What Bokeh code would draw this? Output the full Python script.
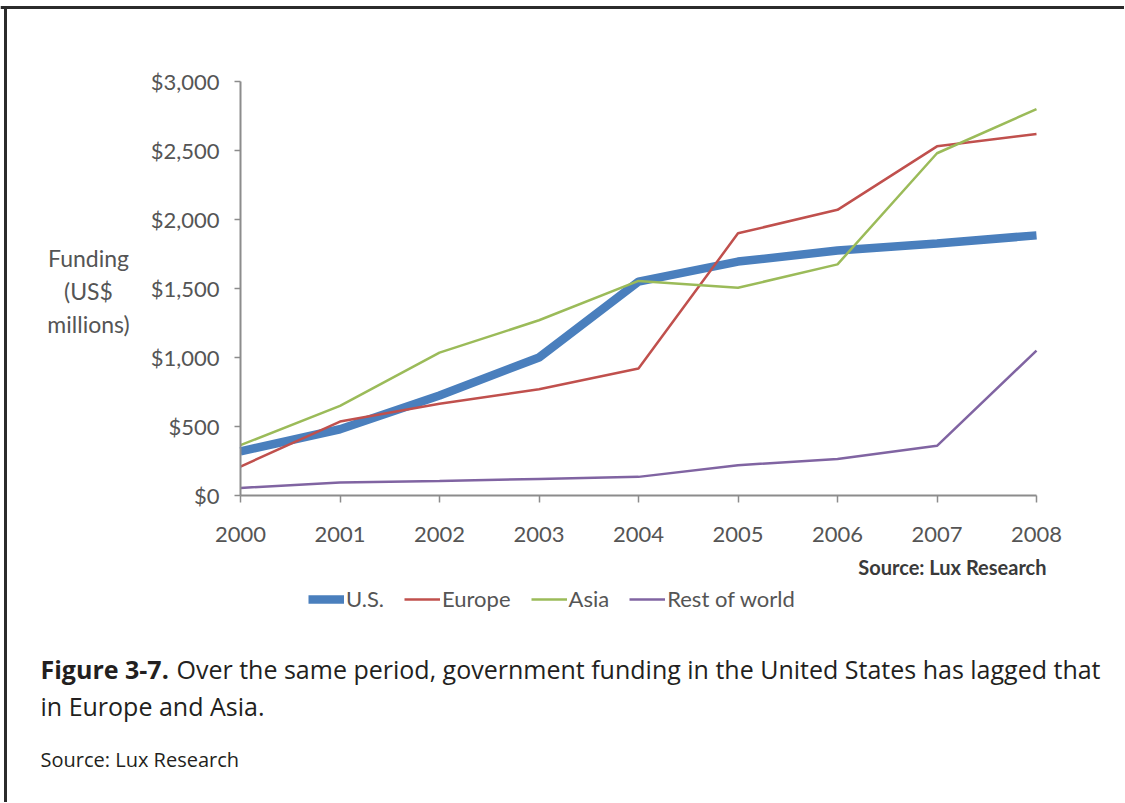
from bokeh.plotting import figure
from bokeh.models import (Range1d, FixedTicker, NumeralTickFormatter, Legend, LegendItem,
                          LinearAxis, Label, BoxAnnotation)
from bokeh.embed import file_html
from bokeh.resources import INLINE

# ---- data ----
years = [2000, 2001, 2002, 2003, 2004, 2005, 2006, 2007, 2008]
us = [320, 480, 725, 1000, 1550, 1695, 1775, 1826, 1885]
europe = [210, 536, 665, 770, 920, 1900, 2070, 2530, 2620]
asia = [365, 650, 1035, 1270, 1555, 1505, 1675, 2480, 2800]
rest = [55, 95, 105, 120, 135, 220, 265, 360, 1050]
y_ticks = [0, 500, 1000, 1500, 2000, 2500, 3000]
series_names = ["U.S.", "Europe", "Asia", "Rest of world"]
caption_bold = "Figure 3-7."
caption_rest = "Over the same period, government funding in the United States has lagged that"
caption_line2 = "in Europe and Asia."
source_text = "Source: Lux Research"
y_title = ["Funding", "(US$", "millions)"]

# ---- layout geometry (page pixels) ----
W, H = 1124, 802
PL, PR = 240, 1036      # x of 2000 / 2008
PB, PT = 495, 81        # y of 0 / 3000
xs = (PR - PL) / (years[-1] - years[0])
ys = (PB - PT) / y_ticks[-1]

p = figure(width=W, height=H, output_backend="svg", toolbar_location=None,
           x_range=Range1d(years[0] - PL / xs, years[0] + (W - PL) / xs),
           y_range=Range1d((PB - H) / ys, PB / ys),
           x_axis_location=None, y_axis_location=None,
           min_border=0, min_border_left=0, min_border_right=0,
           min_border_top=0, min_border_bottom=0)
p.outline_line_color = None
p.xgrid.visible = False
p.ygrid.visible = False


def sx(px):
    return px


def sy(py):
    return H - py


# page frame border (top & left)
p.add_layout(BoxAnnotation(left=p.x_range.start, right=p.x_range.end,
                           bottom=(PB - 8.5) / ys, top=(PB - 5.5) / ys,
                           fill_color="#2b2b2b", fill_alpha=1, line_color=None, level="overlay"))
p.add_layout(BoxAnnotation(left=years[0] + (3.5 - PL) / xs, right=years[0] + (6.5 - PL) / xs,
                           bottom=p.y_range.start, top=(PB - 5.5) / ys,
                           fill_color="#2b2b2b", fill_alpha=1, line_color=None, level="overlay"))

axis_col = "#8c8c8c"
tick_font = "Lato"
lab_col = "#555555"

xax = LinearAxis(fixed_location=0, bounds=(years[0], years[-1]),
                 ticker=FixedTicker(ticks=years))
yax = LinearAxis(fixed_location=years[0], bounds=(0, y_ticks[-1]),
                 ticker=FixedTicker(ticks=y_ticks),
                 formatter=NumeralTickFormatter(format="$0,0"))
for ax in (xax, yax):
    ax.axis_line_color = axis_col
    ax.axis_line_width = 2
    ax.major_tick_line_color = axis_col
    ax.major_tick_line_width = 1.5
    ax.major_tick_in = 0
    ax.minor_tick_line_color = None
    ax.major_label_text_font = tick_font
    ax.major_label_text_font_size = "22px"
    ax.major_label_text_color = lab_col
xax.major_tick_out = 7
yax.major_tick_out = 6
xax.major_label_standoff = 24
yax.major_label_standoff = 15
p.add_layout(xax, "below")
p.add_layout(yax, "left")

r_us = p.line(years, us, line_color="#4a7fbd", line_width=8.5)
r_eu = p.line(years, europe, line_color="#c0504d", line_width=2.5)
r_as = p.line(years, asia, line_color="#9bbb59", line_width=2.5)
r_rw = p.line(years, rest, line_color="#8064a2", line_width=2.5)

legend = Legend(items=[LegendItem(label=n, renderers=[r]) for n, r in
                       zip(series_names, [r_us, r_eu, r_as, r_rw])],
                orientation="horizontal", location=(sx(308), sy(612)),
                glyph_width=36, glyph_height=24, label_standoff=2, spacing=20,
                padding=0, margin=0, border_line_color=None,
                background_fill_alpha=0,
                label_text_font=tick_font, label_text_font_size="22px",
                label_text_color=lab_col, label_height=24)
p.add_layout(legend, "center")


def lab(px, py, text, font, size, color, style="normal", align="left"):
    p.add_layout(Label(x=sx(px), y=sy(py), x_units="screen", y_units="screen",
                       text=text, text_align=align, text_baseline="alphabetic",
                       text_font=font, text_font_size=size, text_font_style=style,
                       text_color=color))


for t, py in zip(y_title, [257, 290, 323]):
    lab(88, py, t, tick_font, "23px", lab_col, align="center")

lab(1046, 566, source_text, tick_font, "20px", "#3a3a3a", style="bold", align="right")

cap_font = "Open Sans"
cap_col = "#231f20"
lab(40, 668, caption_bold, cap_font, "25px", cap_col, style="bold")
lab(176, 668, caption_rest, cap_font, "25px", cap_col)
lab(40, 705, caption_line2, cap_font, "25px", cap_col)
lab(40, 759, source_text, cap_font, "20px", cap_col)

open("out.html", "w").write(file_html(p, INLINE))
